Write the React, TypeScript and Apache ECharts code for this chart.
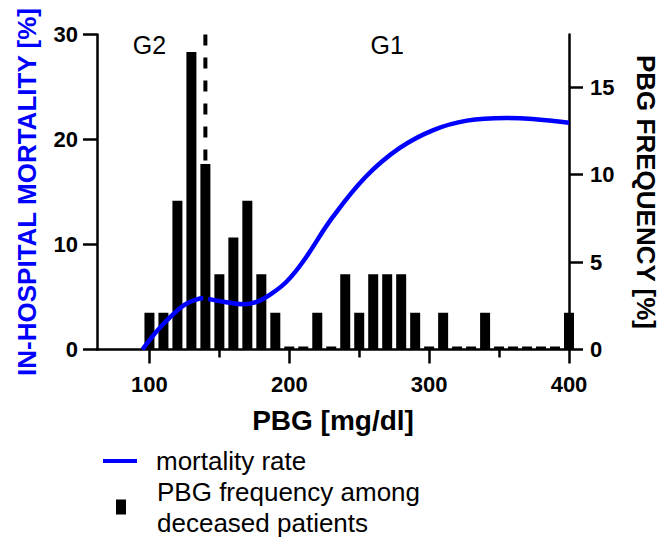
import React, { useEffect, useRef } from 'react';
import * as echarts from 'echarts';

// ---- data ----
const binCenters = [100, 110, 120, 130, 140, 150, 160, 170, 180, 190, 200, 210, 220, 230, 240, 250, 260, 270, 280, 290, 300, 310, 320, 330, 340, 350, 360, 370, 380, 390, 400];
const pbgFrequency = [2.1, 2.1, 8.5, 17.0, 10.6, 4.3, 6.4, 8.5, 4.3, 2.1, 0, 0, 2.1, 0, 4.3, 2.1, 4.3, 4.3, 4.3, 2.1, 0, 2.1, 0, 0, 2.1, 0, 0, 0, 0, 0, 2.1];
const mortalityPBG = [95, 105, 115, 125, 134, 138.5, 140, 142, 153, 167, 177, 186, 198, 210, 231, 255, 279, 303, 327, 355, 374, 400];
const mortalityRate: (number | string)[] = [0, 1.7, 3.1, 4.25, 4.78, 4.87, '-', 4.82, 4.55, 4.3, 4.55, 5.2, 6.45, 8.4, 12.6, 16.5, 19.2, 20.9, 21.8, 22.05, 21.95, 21.6];
const thresholdPBG = 140;
const groupLabels = ['G2', 'G1'];
const groupLabelPBG = [100, 270];
const groupLabelLevel = 29;
const xTickValues = [100, 200, 300, 400];
const xMinorTickValues = [150, 250, 350];
const freqTickValues = [0, 5, 10, 15];

const FONT = '"Liberation Sans", Arial, Helvetica, sans-serif';
const BLUE = '#0000ff';
const LINE_NAME = 'mortality rate';
const BAR_NAME = 'PBG frequency among\ndeceased patients';

export default function App() {
  const ref = useRef<HTMLDivElement>(null);
  useEffect(() => {
    const chart = echarts.init(ref.current!, null, { renderer: 'svg' });
    const axisLine = { show: true, lineStyle: { color: '#000', width: 2.5 } };
    const tickStyle = { color: '#000', width: 2.5 };
    const labelStyle = { fontSize: 22, fontWeight: 'bold', color: '#000', fontFamily: FONT };
    chart.setOption({
      animation: false,
      textStyle: { fontFamily: FONT },
      grid: { left: 97, right: 101, top: 34.5, bottom: 189.5, containLabel: false },
      legend: [
        {
          data: [LINE_NAME], left: 103, top: 448, padding: 0, icon: 'rect',
          itemWidth: 34, itemHeight: 4, selectedMode: false,
          textStyle: { fontSize: 26, color: '#000', fontFamily: FONT, padding: [0, 0, 0, 14] },
        },
        {
          data: [BAR_NAME], left: 116, top: 476, padding: 0, icon: 'rect',
          itemWidth: 10, itemHeight: 15, selectedMode: false,
          textStyle: { fontSize: 26, lineHeight: 31, color: '#000', fontFamily: FONT, padding: [0, 0, 0, 26] },
        },
      ],
      xAxis: [
        {
          type: 'value', min: 62.5, max: 400, position: 'bottom',
          axisLine,
          axisTick: { show: true, customValues: xTickValues, length: 14, lineStyle: tickStyle },
          axisLabel: { ...labelStyle, customValues: xTickValues, margin: 24 },
          splitLine: { show: false },
          name: 'PBG [mg/dl]', nameLocation: 'middle', nameGap: 57,
          nameTextStyle: { fontSize: 28, fontWeight: 'bold', color: '#000', fontFamily: FONT },
        },
        {
          type: 'value', min: 62.5, max: 400, position: 'bottom',
          axisLine: { show: false },
          axisTick: { show: true, customValues: xMinorTickValues, length: 8, lineStyle: tickStyle },
          axisLabel: { show: false },
          splitLine: { show: false },
        },
      ],
      yAxis: [
        {
          type: 'value', min: 0, max: 30, interval: 10, position: 'left',
          axisLine,
          axisTick: { show: true, length: 14, lineStyle: tickStyle },
          axisLabel: { ...labelStyle, margin: 19 },
          splitLine: { show: false },
          name: 'IN-HOSPITAL MORTALITY [%]', nameLocation: 'middle', nameRotate: 90, nameGap: 57,
          nameTextStyle: { fontSize: 26, fontWeight: 'bold', color: BLUE, fontFamily: FONT },
        },
        {
          type: 'value', min: 0, max: 18, position: 'right',
          axisLine,
          axisTick: { show: true, customValues: freqTickValues, length: 14, lineStyle: tickStyle },
          axisLabel: { ...labelStyle, customValues: freqTickValues, margin: 21 },
          splitLine: { show: false },
          name: 'PBG FREQUENCY [%]', nameLocation: 'middle', nameRotate: -90, nameGap: 64,
          nameTextStyle: { fontSize: 26, fontWeight: 'bold', color: '#000', fontFamily: FONT },
        },
      ],
      series: [
        {
          name: BAR_NAME, type: 'bar', xAxisIndex: 0, yAxisIndex: 1,
          data: binCenters.map((x, i) => [x, pbgFrequency[i]]),
          barWidth: 10, barMinHeight: 3,
          itemStyle: { color: '#000' }, z: 2,
        },
        {
          name: 'threshold', type: 'line', xAxisIndex: 0, yAxisIndex: 0,
          data: [[thresholdPBG, 30], [thresholdPBG, 0]],
          symbol: 'none', silent: true,
          lineStyle: { color: '#000', width: 4, type: [11, 12] }, z: 3,
        },
        {
          name: LINE_NAME, type: 'line', xAxisIndex: 0, yAxisIndex: 0,
          data: mortalityPBG.map((x, i) => [x, mortalityRate[i]]),
          smooth: 0.4, symbol: 'none', connectNulls: false,
          lineStyle: { color: BLUE, width: 4.5 }, itemStyle: { color: BLUE }, z: 4,
        },
        {
          name: 'groups', type: 'scatter', xAxisIndex: 0, yAxisIndex: 0,
          data: groupLabelPBG.map((x, i) => [x, groupLabelLevel, groupLabels[i]]),
          symbolSize: 1, itemStyle: { color: 'rgba(0,0,0,0)', opacity: 1 }, silent: true,
          label: {
            show: true, position: 'inside', formatter: (p: any) => p.data[2],
            fontSize: 25, color: '#000', opacity: 1, fontFamily: FONT,
          },
          z: 5,
        },
      ],
    });
    return () => chart.dispose();
  }, []);
  return <div ref={ref} style={{ position: 'absolute', left: 0, top: 0, width: 670, height: 539 }} />;
}
